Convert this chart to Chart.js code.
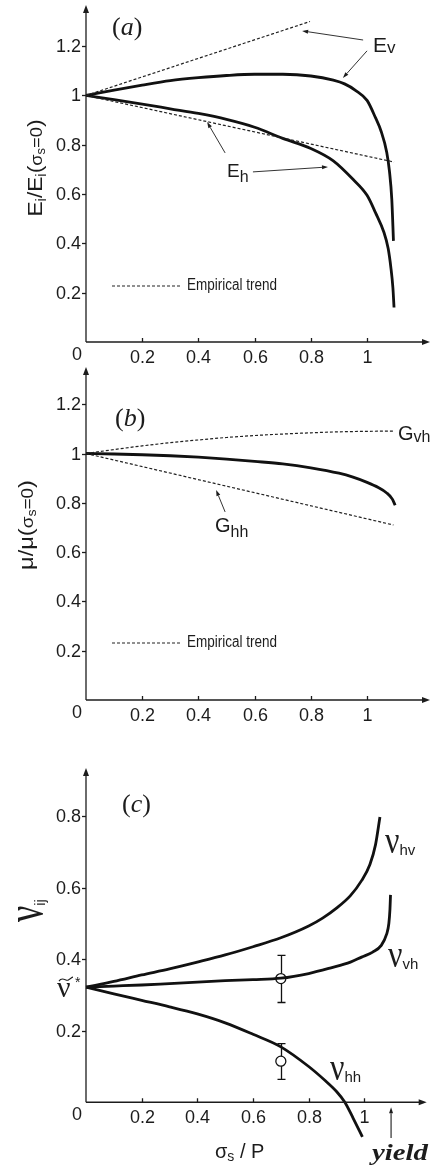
<!DOCTYPE html>
<html>
<head>
<meta charset="utf-8">
<script src="https://cdn.jsdelivr.net/npm/chart.js@4.4.0/dist/chart.umd.min.js"></script>
<style>
  html, body { margin: 0; padding: 0; background: #fff; }
  #wrap { position: relative; width: 433px; height: 1169px; overflow: hidden; }
  canvas { position: absolute; left: 0; }
</style>
</head>
<body>
<div id="wrap">
  <canvas id="chartA" width="433" height="365" style="top:0px"></canvas>
  <canvas id="chartB" width="433" height="365" style="top:365px"></canvas>
  <canvas id="chartC" width="433" height="439" style="top:730px"></canvas>
</div>
<script>
// tick labels
const xTicks = [0.2, 0.4, 0.6, 0.8, 1];
const yTicksA = [0.2, 0.4, 0.6, 0.8, 1, 1.2];
const yTicksB = [0.2, 0.4, 0.6, 0.8, 1, 1.2];
const yTicksC = [0.2, 0.4, 0.6, 0.8];

// (a) Young's moduli
const evX = [0, 0.1, 0.2, 0.3, 0.4, 0.5, 0.6, 0.7, 0.8, 0.88, 0.92, 0.96, 1.0, 1.03, 1.05, 1.07, 1.08, 1.088, 1.094];
const evY = [1, 1.022, 1.042, 1.06, 1.072, 1.081, 1.086, 1.086, 1.079, 1.062, 1.047, 1.02, 0.98, 0.91, 0.855, 0.77, 0.69, 0.58, 0.41];
const ehX = [0, 0.1, 0.2, 0.3, 0.4, 0.5, 0.6, 0.7, 0.8, 0.88, 0.95, 1.0, 1.03, 1.06, 1.075, 1.085, 1.092, 1.096];
const ehY = [1, 0.983, 0.965, 0.946, 0.927, 0.903, 0.871, 0.826, 0.785, 0.735, 0.66, 0.595, 0.525, 0.445, 0.38, 0.3, 0.22, 0.14];
const evTrendX = [0, 0.797];
const evTrendY = [1, 1.3];
const ehTrendX = [0, 1.096];
const ehTrendY = [1, 0.73];

// (b) shear moduli
const muX = [0, 0.1, 0.2, 0.3, 0.4, 0.5, 0.6, 0.7, 0.8, 0.9, 0.95, 1.0, 1.04, 1.07, 1.09, 1.1];
const muY = [1, 0.998, 0.995, 0.991, 0.985, 0.977, 0.968, 0.958, 0.942, 0.92, 0.904, 0.883, 0.862, 0.84, 0.815, 0.79];
const gvhX = [0, 0.1, 0.2, 0.3, 0.4, 0.5, 0.6, 0.7, 0.8, 0.9, 1.0, 1.094];
const gvhY = [1, 1.016, 1.031, 1.044, 1.055, 1.065, 1.073, 1.079, 1.084, 1.088, 1.09, 1.091];
const ghhX = [0, 1.094];
const ghhY = [1, 0.71];

// (c) Poisson ratios
const nuStar = 0.322;
const hvX = [0, 0.1, 0.2, 0.3, 0.4, 0.5, 0.6, 0.7, 0.8, 0.85, 0.9, 0.95, 0.99, 1.02, 1.04, 1.056];
const hvY = [0.322, 0.338, 0.356, 0.373, 0.392, 0.412, 0.435, 0.46, 0.493, 0.515, 0.543, 0.578, 0.62, 0.665, 0.72, 0.798];
const vhX = [0, 0.1, 0.2, 0.3, 0.4, 0.5, 0.6, 0.7, 0.8, 0.88, 0.95, 0.99, 1.03, 1.06, 1.08, 1.088, 1.092, 1.094];
const vhY = [0.322, 0.325, 0.328, 0.332, 0.336, 0.34, 0.343, 0.347, 0.36, 0.376, 0.392, 0.406, 0.42, 0.438, 0.47, 0.5, 0.54, 0.58];
const hhX = [0, 0.1, 0.2, 0.3, 0.4, 0.5, 0.6, 0.7, 0.8, 0.86, 0.9, 0.93, 0.96, 0.993];
const hhY = [0.322, 0.303, 0.285, 0.267, 0.247, 0.222, 0.19, 0.155, 0.1, 0.06, 0.03, 0, -0.045, -0.097];
const expX = [0.7, 0.7];
const expY = [0.346, 0.115];
const expLo = [0.279, 0.064];
const expHi = [0.411, 0.164];

const SANS = '"Liberation Sans", Arial, sans-serif';
const SERIF = '"Liberation Serif", "Times New Roman", serif';
const INK = '#1c1c1c';

function curve(xs, ys, dashed) {
  return {
    data: xs.map((x, i) => ({ x: x, y: ys[i] })),
    showLine: true,
    borderColor: dashed ? '#222' : '#111',
    borderWidth: dashed ? 1.2 : 2.8,
    borderDash: dashed ? [3, 2] : [],
    pointRadius: 0,
    cubicInterpolationMode: 'monotone',
    fill: false,
    clip: false
  };
}

function richWidth(ctx, parts) {
  let w = 0;
  parts.forEach(p => { ctx.font = p.f; w += ctx.measureText(p.t).width; });
  return w;
}
function drawRich(ctx, x, y, parts) {
  let cx = x;
  parts.forEach(p => {
    ctx.font = p.f;
    const dy = p.dy || 0;
    if (p.sy) {
      ctx.save(); ctx.translate(cx, y + dy); ctx.scale(1, p.sy);
      ctx.fillText(p.t, 0, 0); ctx.restore();
    } else {
      ctx.fillText(p.t, cx, y + dy);
    }
    cx += ctx.measureText(p.t).width;
  });
}
function fitText(ctx, s, x, y, font, target) {
  ctx.font = font;
  const w = ctx.measureText(s).width;
  ctx.save(); ctx.translate(x, y); ctx.scale(target / w, 1);
  ctx.fillText(s, 0, 0); ctx.restore();
}
function arrow(ctx, x1, y1, x2, y2) {
  const ang = Math.atan2(y2 - y1, x2 - x1), L = 6, H = 2;
  ctx.beginPath(); ctx.moveTo(x1, y1);
  ctx.lineTo(x2 - Math.cos(ang) * L, y2 - Math.sin(ang) * L); ctx.stroke();
  ctx.beginPath(); ctx.moveTo(x2, y2);
  ctx.lineTo(x2 - Math.cos(ang) * L - Math.sin(ang) * H, y2 - Math.sin(ang) * L + Math.cos(ang) * H);
  ctx.lineTo(x2 - Math.cos(ang) * L + Math.sin(ang) * H, y2 - Math.sin(ang) * L - Math.cos(ang) * H);
  ctx.closePath(); ctx.fill();
}
function dataArrow(chart, a, b) {
  const { x, y } = chart.scales;
  arrow(chart.ctx, x.getPixelForValue(a[0]), y.getPixelForValue(a[1]),
        x.getPixelForValue(b[0]), y.getPixelForValue(b[1]));
}

function drawAxes(chart, cfg) {
  const { ctx, chartArea: a, scales: { x, y } } = chart;
  const x0 = x.getPixelForValue(0), y0 = y.getPixelForValue(0);
  ctx.save();
  ctx.strokeStyle = INK; ctx.fillStyle = INK; ctx.lineWidth = 1.3; ctx.setLineDash([]);
  ctx.beginPath(); ctx.moveTo(x0, y0); ctx.lineTo(x0, a.top + 6); ctx.stroke();
  ctx.beginPath(); ctx.moveTo(x0, a.top); ctx.lineTo(x0 - 3, a.top + 8); ctx.lineTo(x0 + 3, a.top + 8); ctx.closePath(); ctx.fill();
  ctx.beginPath(); ctx.moveTo(x0, y0); ctx.lineTo(a.right - 6, y0); ctx.stroke();
  ctx.beginPath(); ctx.moveTo(a.right, y0); ctx.lineTo(a.right - 8, y0 - 3); ctx.lineTo(a.right - 8, y0 + 3); ctx.closePath(); ctx.fill();

  ctx.font = '18px ' + SANS;
  ctx.textAlign = 'right'; ctx.textBaseline = 'middle';
  cfg.yTicks.forEach(v => {
    const py = Math.round(y.getPixelForValue(v)) + 0.5;
    ctx.beginPath(); ctx.moveTo(x0 - 4, py); ctx.lineTo(x0, py); ctx.stroke();
    ctx.fillText(String(v), x0 - 5, py + 1);
  });
  ctx.textAlign = 'center';
  xTicks.forEach(v => {
    const px = Math.round(x.getPixelForValue(v)) + 0.5;
    ctx.beginPath(); ctx.moveTo(px, y0 - 4); ctx.lineTo(px, y0); ctx.stroke();
    ctx.fillText(String(v), px, y0 + 16);
  });
  ctx.fillText('0', x0 - 9, y0 + 13);
  ctx.restore();
}

function legendTrend(ctx, yy) {
  ctx.save();
  ctx.strokeStyle = '#222'; ctx.lineWidth = 1.2; ctx.setLineDash([3, 2]);
  ctx.beginPath(); ctx.moveTo(112, yy); ctx.lineTo(180, yy); ctx.stroke();
  ctx.setLineDash([]);
  ctx.textBaseline = 'middle';
  fitText(ctx, 'Empirical trend', 187, yy, '16px "Liberation Sans Narrow", ' + SANS, 90);
  ctx.restore();
}

function panelLabel(ctx, letter, x, y) {
  drawRich(ctx, x, y, [
    { t: '(', f: '26px ' + SERIF },
    { t: letter, f: 'italic 26px ' + SERIF },
    { t: ')', f: '26px ' + SERIF }
  ]);
}

function rotTitle(ctx, bx, cy, parts, target) {
  const w = richWidth(ctx, parts);
  const s = target ? target / w : 1;
  ctx.save(); ctx.translate(bx, cy); ctx.rotate(-Math.PI / 2); ctx.scale(s, 1);
  drawRich(ctx, -w / 2, 0, parts);
  ctx.restore();
}

function panel(id, top, cfg) {
  return new Chart(document.getElementById(id), {
    type: 'scatter',
    data: { datasets: cfg.datasets },
    options: {
      responsive: false,
      animation: false,
      devicePixelRatio: 1,
      layout: { padding: cfg.padding },
      plugins: { legend: { display: false }, tooltip: { enabled: false } },
      scales: {
        x: { type: 'linear', min: 0, max: 1.224, display: false },
        y: { type: 'linear', min: cfg.yMin, max: cfg.yMax, display: false }
      }
    },
    plugins: [{
      id: 'deco',
      beforeDatasetsDraw(chart) { if (cfg.under) cfg.under(chart); },
      afterDatasetsDraw(chart) {
        drawAxes(chart, cfg);
        const ctx = chart.ctx;
        ctx.save();
        ctx.fillStyle = INK; ctx.strokeStyle = INK; ctx.lineWidth = 0.9;
        ctx.textAlign = 'left'; ctx.textBaseline = 'alphabetic';
        cfg.extra(chart, ctx);
        ctx.restore();
        // page-coordinate texts
        ctx.save();
        ctx.translate(0, -top);
        ctx.fillStyle = INK; ctx.strokeStyle = INK; ctx.lineWidth = 0.9;
        ctx.textAlign = 'left'; ctx.textBaseline = 'alphabetic';
        cfg.texts(ctx, chart);
        ctx.restore();
      }
    }]
  });
}

// ---- (a)
panel('chartA', 0, {
  padding: { left: 86, right: 3, top: 5, bottom: 23 },
  yMin: 0, yMax: 1.367,
  yTicks: yTicksA,
  datasets: [
    curve(evTrendX, evTrendY, true),
    curve(ehTrendX, ehTrendY, true),
    curve(evX, evY, false),
    curve(ehX, ehY, false)
  ],
  extra(chart, ctx) {
    dataArrow(chart, [0.986, 1.225], [0.769, 1.262]);
    dataArrow(chart, [1.0, 1.181], [0.914, 1.071]);
    dataArrow(chart, [0.594, 0.69], [0.861, 0.71]);
    dataArrow(chart, [0.495, 0.767], [0.431, 0.892]);
  },
  texts(ctx) {
    panelLabel(ctx, 'a', 112, 35);
    drawRich(ctx, 373, 52, [{ t: 'E', f: '21px ' + SANS }, { t: 'v', f: '17px ' + SANS, dy: 1 }]);
    drawRich(ctx, 227, 177, [{ t: 'E', f: '19px ' + SANS }, { t: 'h', f: '16px ' + SANS, dy: 5 }]);
    legendTrend(ctx, 286);
    rotTitle(ctx, 42, 168, [
      { t: 'E', f: '21px ' + SANS }, { t: 'i', f: '14px ' + SANS, dy: 4 },
      { t: '/', f: '21px ' + SANS },
      { t: 'E', f: '21px ' + SANS }, { t: 'i', f: '14px ' + SANS, dy: 4 },
      { t: '(', f: '21px ' + SANS }, { t: 'σ', f: '17px ' + SANS },
      { t: 's', f: '12px ' + SANS, dy: 3 }, { t: '=0', f: '17px ' + SANS },
      { t: ')', f: '21px ' + SANS }
    ], 97);
  }
});

// ---- (b)
panel('chartB', 365, {
  padding: { left: 86, right: 3, top: 2, bottom: 30 },
  yMin: 0, yMax: 1.351,
  yTicks: yTicksB,
  datasets: [
    curve(gvhX, gvhY, true),
    curve(ghhX, ghhY, true),
    curve(muX, muY, false)
  ],
  extra(chart, ctx) {
    dataArrow(chart, [0.495, 0.763], [0.463, 0.852]);
  },
  texts(ctx) {
    panelLabel(ctx, 'b', 115, 426);
    drawRich(ctx, 398, 440, [{ t: 'G', f: '20px ' + SANS }, { t: 'vh', f: '16px ' + SANS, dy: 2 }]);
    drawRich(ctx, 215, 532, [{ t: 'G', f: '20px ' + SANS }, { t: 'hh', f: '16px ' + SANS, dy: 5 }]);
    legendTrend(ctx, 643);
    rotTitle(ctx, 33, 525, [
      { t: 'μ', f: '20px ' + SANS }, { t: '/', f: '20px ' + SANS },
      { t: 'μ', f: '20px ' + SANS }, { t: '(', f: '20px ' + SANS },
      { t: 'σ', f: '16px ' + SANS }, { t: 's', f: '12px ' + SANS, dy: 3 },
      { t: '=0', f: '16px ' + SANS }, { t: ')', f: '20px ' + SANS }
    ], 90);
  }
});

// ---- (c)
panel('chartC', 730, {
  padding: { left: 86, right: 3, top: 38, bottom: 31 },
  yMin: -0.1, yMax: 0.935,
  yTicks: yTicksC,
  datasets: [
    curve(hvX, hvY, false),
    curve(vhX, vhY, false),
    curve(hhX, hhY, false),
    {
      data: expX.map((x, i) => ({ x: x, y: expY[i] })),
      showLine: false,
      pointRadius: 5,
      pointBackgroundColor: '#fff',
      pointBorderColor: '#111',
      pointBorderWidth: 1.3,
      clip: false
    }
  ],
  under(chart) {
    const { ctx, scales: { x, y } } = chart;
    ctx.save();
    ctx.strokeStyle = '#111'; ctx.lineWidth = 1.3;
    expX.forEach((v, i) => {
      const px = Math.round(x.getPixelForValue(v)) + 0.5;
      const lo = y.getPixelForValue(expLo[i]), hi = y.getPixelForValue(expHi[i]);
      ctx.beginPath();
      ctx.moveTo(px, lo); ctx.lineTo(px, hi);
      ctx.moveTo(px - 4, lo); ctx.lineTo(px + 4, lo);
      ctx.moveTo(px - 4, hi); ctx.lineTo(px + 4, hi);
      ctx.stroke();
    });
    ctx.restore();
  },
  extra(chart, ctx) {
    ctx.lineWidth = 1.1;
    dataArrow(chart, [1.096, -0.1], [1.096, -0.014]);
    // nu-tilde-star tick label
    const py = chart.scales.y.getPixelForValue(nuStar);
    ctx.font = '30px ' + SERIF;
    ctx.fillText('ν', 57, py + 10);
    ctx.beginPath();
    ctx.moveTo(59, py - 6);
    ctx.bezierCurveTo(62, py - 11, 66, py - 6, 68, py - 7);
    ctx.bezierCurveTo(70, py - 8, 72, py - 10, 73, py - 10);
    ctx.stroke();
    ctx.font = '14px ' + SANS;
    ctx.fillText('*', 75, py + 0);
  },
  texts(ctx) {
    panelLabel(ctx, 'c', 122, 812);
    const nu = (x, y, sub) => drawRich(ctx, x, y, [
      { t: 'ν', f: '32px ' + SERIF, sy: 1.2 },
      { t: sub, f: '15px ' + SANS, dy: 2 }
    ]);
    nu(385, 853, 'hv');
    nu(388, 967, 'vh');
    nu(330, 1080, 'hh');
    drawRich(ctx, 215, 1158, [
      { t: 'σ', f: '20px ' + SANS }, { t: 's', f: '14px ' + SANS, dy: 3 },
      { t: ' / P', f: '20px ' + SANS }
    ]);
    fitText(ctx, 'yield', 372, 1160, 'bold italic 24px ' + SERIF, 56);
    // rotated nu_ij
    ctx.save();
    ctx.translate(42, 922); ctx.rotate(-Math.PI / 2);
    drawRich(ctx, 0, 0, [
      { t: 'ν', f: '36px ' + SERIF, sy: 1.45 },
      { t: 'ij', f: '15px ' + SANS, dy: 3 }
    ]);
    ctx.restore();
  }
});
</script>
</body>
</html>
